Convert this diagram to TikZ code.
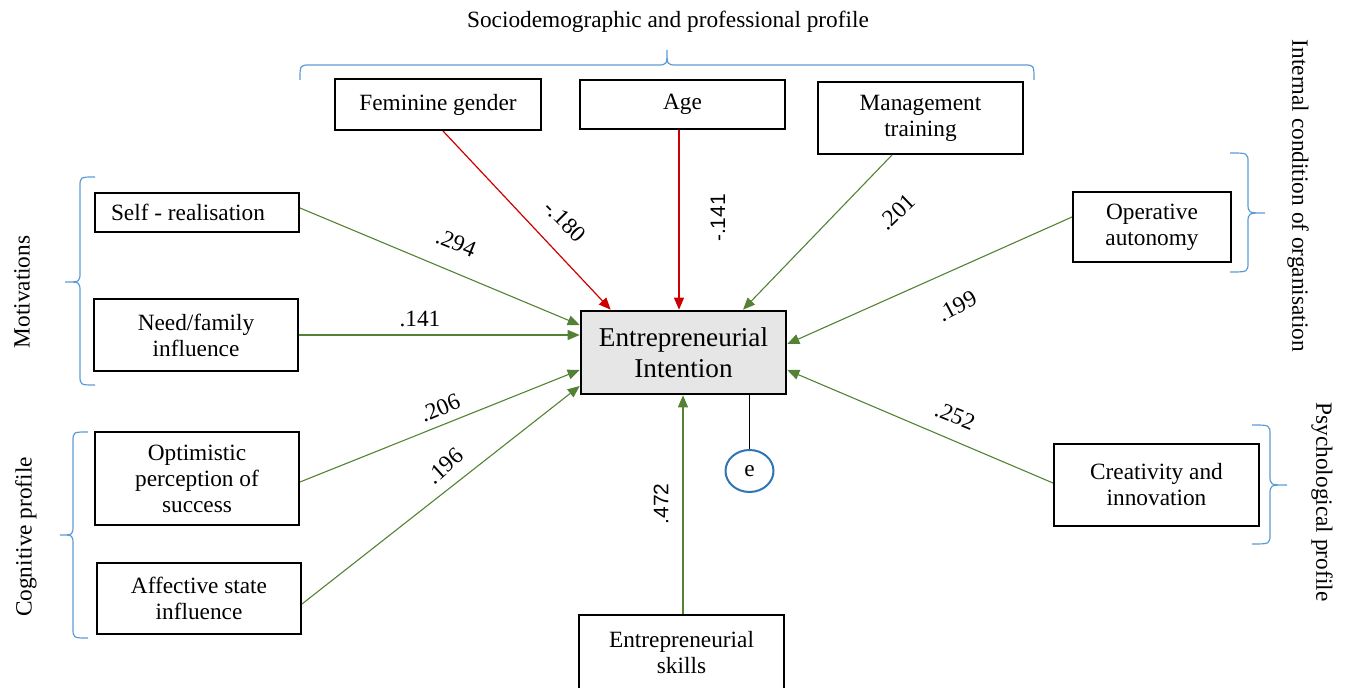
\documentclass[tikz,border=0pt]{standalone}
\usepackage{fontspec}
\setmainfont{Liberation Serif}
\newfontfamily\numsans{Liberation Sans}
\usetikzlibrary{arrows.meta,calc,shapes.geometric}
\definecolor{arrred}{RGB}{204,0,0}
\definecolor{arrgreen}{RGB}{84,130,53}
\definecolor{braceblue}{RGB}{91,155,213}
\definecolor{eblue}{RGB}{46,117,182}
\definecolor{eigray}{RGB}{230,230,230}
% vertical brace: #1 end x, #2 line x, #3 tip x, #4 top y, #5 tip y, #6 bottom y
\newcommand\myvbrace[6]{%
  \draw[grpbrace] (#1,#4) .. controls (#2,#4) .. (#2,#4+10) -- (#2,#5-10)
    .. controls (#2,#5) .. (#3,#5) .. controls (#2,#5) .. (#2,#5+10)
    -- (#2,#6-10) .. controls (#2,#6) .. (#1,#6);}
\begin{document}
\begin{tikzpicture}[x=0.5pt,y=-0.5pt,
  box/.style={draw=black,line width=1pt,align=center,inner sep=0pt,font=\fontsize{11.65}{13}\selectfont},
  mainbox/.style={draw=black,line width=1.3pt,fill=eigray,align=center,inner sep=0pt,minimum width=102.5pt,minimum height=41.5pt,font=\fontsize{13.6}{15.5}\selectfont},
  posarrow/.style={-{Triangle[length=6pt,width=5pt]},line width=0.55pt,draw=arrgreen},
  negarrow/.style={-{Triangle[length=6pt,width=5pt]},line width=0.6pt,draw=arrred},
  coef/.style={font=\fontsize{11.65}{13}\selectfont,inner sep=0pt},
  coefsans/.style={font=\numsans\fontsize{10.5}{12}\selectfont,inner sep=0pt},
  grp/.style={font=\fontsize{11.65}{13}\selectfont,inner sep=0pt},
  grpbrace/.style={draw=braceblue,line width=0.6pt},
]
\useasboundingbox (0,0) rectangle (1345,688);

% group braces
\draw[grpbrace] (300,80) .. controls (300,65) .. (310,65) -- (657,65)
  .. controls (667,65) .. (667,50) .. controls (667,65) .. (677,65)
  -- (1024,65) .. controls (1034,65) .. (1034,80);
\myvbrace{95}{80}{65}{177}{282}{385}
\myvbrace{88}{73}{60}{432}{535}{638}
\myvbrace{1230}{1248}{1265}{153}{213}{272}
\myvbrace{1252}{1270}{1287}{425}{485}{544}

% group titles
\node[grp] (g1) at (668,22) {Sociodemographic and professional profile};
\node[grp,rotate=90] (g2) at (22,292) {Motivations};
\node[grp,rotate=90] (g3) at (26,537) {Cognitive profile};
\node[grp,rotate=-90] (g4) at (1298,196) {Internal condition of organisation};
\node[grp,rotate=-90] (g5) at (1322,502) {Psychological profile};

% boxes
\node[box,minimum width=103pt,minimum height=25.5pt] (fem) at (438,104.5) {Feminine gender};
\node[box,minimum width=102.5pt,minimum height=24.5pt] (age) at (682.5,104.5) {Age};
\node[box,minimum width=102.5pt,minimum height=36pt] (mgmt) at (920.5,118) {Management\\training};
\node[box,minimum width=102pt,minimum height=19.5pt] (self) at (197,212.5) {Self - realisation\hspace{9pt}};
\node[box,minimum width=102pt,minimum height=36pt] (need) at (196,335) {Need/family\\influence};
\node[box,minimum width=102pt,minimum height=46.5pt] (opt) at (197,478.5) {Optimistic\\perception of\\success};
\node[box,minimum width=102pt,minimum height=35.5pt] (aff) at (199,598.5) {Affective state\\influence};
\node[mainbox] (ei) at (683.5,352.5) {Entrepreneurial\\Intention};
\node[box,minimum width=79pt,minimum height=35pt] (oper) at (1152,227) {Operative\\autonomy};
\node[box,minimum width=102.5pt,minimum height=41pt] (crea) at (1156.5,485) {Creativity and\\innovation};
\node[box,minimum width=102.5pt,minimum height=38pt] (skills) at (681.5,653) {Entrepreneurial\\skills};
\node[draw=eblue,line width=1pt,ellipse,minimum width=24pt,minimum height=21pt,inner sep=0pt,font=\fontsize{11.65}{13}\selectfont] (e) at (749.5,471) {e};

% connectors
\draw[negarrow] ($(fem.south)+(5,0)$) -- ($(ei.north west)+(31,0)$);
\draw[negarrow] ($(age.south)+(-3.5,0)$) -- ($(ei.north)+(-4.5,0)$);
\draw[posarrow] ($(mgmt.south)+(-28.5,0)$) -- ($(ei.north)+(59.5,0)$);
\draw[posarrow] ($(self.east)+(0,-4.5)$) -- ($(ei.west)+(0,-27.5)$);
\draw[posarrow] (need.east) -- ($(ei.west)+(0,-17.5)$);
\draw[posarrow] ($(opt.east)+(0,3.5)$) -- ($(ei.west)+(0,17.5)$);
\draw[posarrow] ($(aff.east)+(0,5.5)$) -- ($(ei.west)+(0,33.5)$);
\draw[posarrow] ($(oper.west)+(0,-10)$) -- ($(ei.east)+(0,-8.5)$);
\draw[posarrow] ($(crea.west)+(0,-2)$) -- ($(ei.east)+(0,17.5)$);
\draw[posarrow] ($(skills.north)+(1.5,0)$) -- ($(ei.south)+(-0.5,0)$);
\draw[line width=0.6pt] (e.north) -- (e.north |- ei.south);

% coefficients
\node[coef,rotate=-22] (l1) at (456,243) {.294};
\node[coef,rotate=-45] (l2) at (565,221) {-.180};
\node[coefsans,rotate=90] (l3) at (718,218) {-.141};
\node[coef,rotate=44] (l4) at (897,212) {.201};
\node[coef] (l5) at (420,319) {.141};
\node[coef,rotate=28] (l6) at (957,306) {.199};
\node[coef,rotate=23] (l7) at (440,408) {.206};
\node[coef,rotate=42] (l8) at (445,466) {.196};
\node[coef,rotate=-22] (l9) at (955,416) {.252};
\node[coefsans,rotate=90] (l10) at (661,504) {.472};
\end{tikzpicture}
\end{document}
